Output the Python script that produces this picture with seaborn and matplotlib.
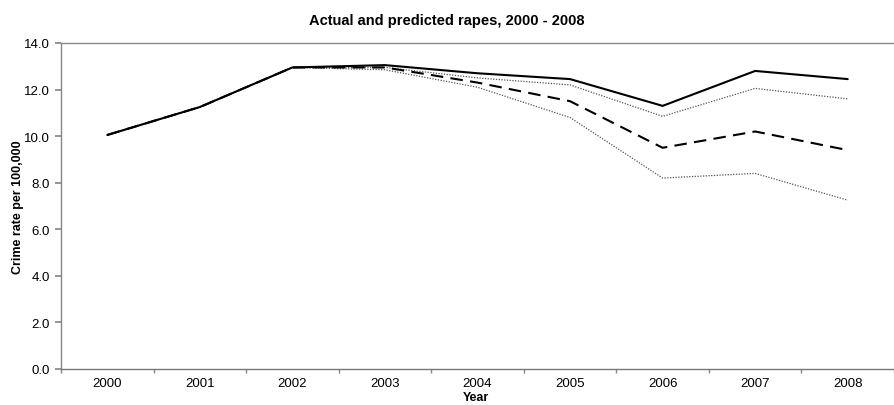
import numpy as np
import pandas as pd
import matplotlib
matplotlib.use("Agg")
import matplotlib.pyplot as plt
import seaborn as sns

# ----- DATA -----
years = ["2000", "2001", "2002", "2003", "2004", "2005", "2006", "2007", "2008"]
actual = [10.05, 11.25, 12.95, 13.05, 12.7, 12.45, 11.3, 12.8, 12.45]
predicted = [10.05, 11.25, 12.95, 12.95, 12.3, 11.5, 9.5, 10.2, 9.4]
upper = [10.05, 11.25, 12.95, 12.95, 12.5, 12.2, 10.85, 12.05, 11.6]
lower = [10.05, 11.25, 12.95, 12.85, 12.1, 10.8, 8.2, 8.4, 7.25]

sns.set_theme(style="white")
plt.rcParams["font.family"] = ["Liberation Sans", "DejaVu Sans"]

fig = plt.figure(figsize=(8.94, 4.06), dpi=100)
ax = fig.add_axes([61 / 894, 36 / 406, 833 / 894, 326 / 406])

xpos = np.arange(len(years))
df = pd.DataFrame({"x": xpos, "actual": actual, "predicted": predicted,
                   "upper": upper, "lower": lower})

sns.lineplot(data=df, x="x", y="upper", ax=ax, color="#555555", lw=0.9,
             linestyle=(0, (1, 1.2)))
sns.lineplot(data=df, x="x", y="lower", ax=ax, color="#555555", lw=0.9,
             linestyle=(0, (1, 1.2)))
sns.lineplot(data=df, x="x", y="predicted", ax=ax, color="black", lw=1.5,
             linestyle=(0, (6, 3.5)))
sns.lineplot(data=df, x="x", y="actual", ax=ax, color="black", lw=1.5)

ax.set_xlim(-0.5, len(years) - 0.5)
ax.set_ylim(0, 14)
ax.set_yticks(np.arange(0, 14.1, 2))
ax.set_yticklabels([f"{v:.1f}" for v in np.arange(0, 14.1, 2)], fontsize=9.5,
                   color="black")
ax.set_xticks(xpos)
ax.set_xticklabels(years, fontsize=9.5, color="black")
ax.set_xticks(np.arange(-0.5, len(years), 1), minor=True)
ax.tick_params(axis="x", which="major", length=0, pad=6)
ax.tick_params(axis="x", which="minor", length=3, color="#888888", bottom=True)
ax.tick_params(axis="y", length=4, color="#888888", left=True, pad=4)

for side in ["left", "bottom", "top"]:
    ax.spines[side].set_color("#888888")
    ax.spines[side].set_linewidth(1.0)
ax.spines["bottom"].set_color("#777777")
ax.spines["right"].set_visible(False)

ax.set_xlabel("Year", fontsize=9, fontweight="bold", color="black")
ax.set_ylabel("Crime rate per 100,000", fontsize=9, fontweight="bold",
              color="black")
ax.xaxis.set_label_coords((476 - 61) / 833, -0.066)
ax.yaxis.set_label_coords(-0.045, 0.5)
fig.suptitle("Actual and predicted rapes, 2000 - 2008", fontsize=10.5,
             fontweight="bold", x=0.5, y=0.965, color="black")

fig.savefig("out.png", dpi=100)
